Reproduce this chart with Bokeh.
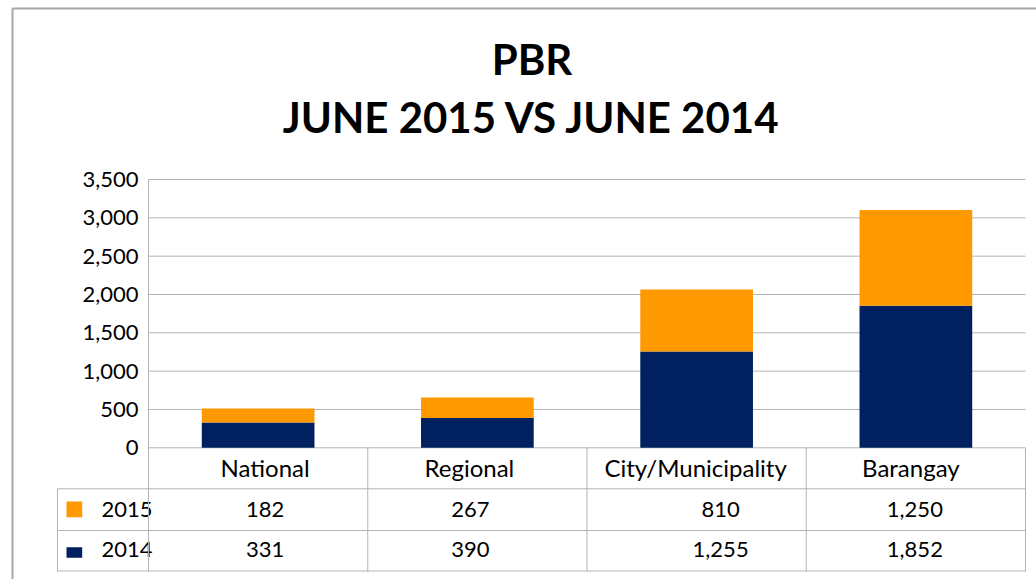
from bokeh.plotting import figure
from bokeh.models import Range1d, FixedTicker, NumeralTickFormatter, ColumnDataSource
from bokeh.core.properties import value
from bokeh.embed import file_html
from bokeh.resources import INLINE

# ---------------- data ----------------
categories = ["National", "Regional", "City/Municipality", "Barangay"]
series_names = ["2015", "2014"]
values_2015 = [182, 267, 810, 1250]
values_2014 = [331, 390, 1255, 1852]
y_ticks = [0, 500, 1000, 1500, 2000, 2500, 3000, 3500]
title_lines = ["PBR", "JUNE 2015 VS JUNE 2014"]

# ---------------- style / layout (page pixels) ----------------
NAVY = "#002060"
ORANGE = "#FF9900"
GRID = "#b3b3b3"
BORDER = "#a6a6a6"
FONT = "Lato"
FS = "22px"
FS_CAT = "24px"

W, H = 1036, 579
AXIS_X = 148          # page x of value axis / table left of categories
TABLE_R = 1025        # right edge of plot / table
LEG_L = 57            # left edge of legend column of table
TOP_Y = 179           # page y of top tick
ZERO_Y = 447.3        # page y of zero
CAT_W = (TABLE_R - AXIS_X) / len(categories)
ROW_LINES = [488.3, 530, 570.5]

ppu = (ZERO_Y - TOP_Y) / max(y_ticks)


def px(page_x):
    return (page_x - AXIS_X) / CAT_W


def py(page_y):
    return (ZERO_Y - page_y) / ppu


p = figure(width=W, height=H, output_backend="svg", toolbar_location=None,
           x_range=Range1d(px(0), px(W)), y_range=Range1d(py(H), py(0)),
           x_axis_type=None,
           min_border_left=0, min_border_right=0,
           min_border_top=0, min_border_bottom=0)
p.outline_line_color = None
p.background_fill_color = "white"
p.border_fill_color = "white"
p.xgrid.visible = False
p.ygrid.visible = False

ticker = FixedTicker(ticks=y_ticks)
yax = p.yaxis[0]
yax.ticker = ticker
yax.fixed_location = 0
yax.bounds = (py(571), max(y_ticks))
yax.formatter = NumeralTickFormatter(format="0,0")
yax.major_tick_line_color = None
yax.minor_tick_line_color = None
yax.major_tick_out = 0
yax.major_tick_in = 0
yax.axis_line_color = GRID
yax.major_label_text_font = FONT
yax.major_label_text_font_size = FS
yax.major_label_text_color = "black"
yax.major_label_standoff = 10

n = len(categories)

# gridlines (only across the plot area)
p.segment(x0=[0] * len(y_ticks), x1=[n] * len(y_ticks), y0=y_ticks, y1=y_ticks,
          line_color=GRID, line_width=1)

# ---------------- bars ----------------
xc = [i + 0.5 for i in range(n)]
src = ColumnDataSource(dict(x=xc, cat=categories,
                            v2014=values_2014, v2015=values_2015))
p.vbar_stack(["v2014", "v2015"], x="x", width=0.514, source=src,
             fill_color=[NAVY, ORANGE], line_color=[None, None])

# ---------------- data table ----------------
for yy in ROW_LINES:
    p.segment(x0=px(LEG_L), x1=n, y0=py(yy), y1=py(yy), line_color=GRID, line_width=1)
for i in range(1, n + 1):
    p.segment(x0=i, x1=i, y0=0, y1=py(571), line_color=GRID, line_width=1)
p.segment(x0=px(LEG_L), x1=px(LEG_L), y0=py(ROW_LINES[0]), y1=py(571),
          line_color=GRID, line_width=1)

hdr_off = [7, -8, -1, -5]
val_off = [7, -7, 24, -1]
p.text(x=xc, y=[py(466.7)] * n, text=categories, x_offset=hdr_off,
       text_align="center", text_baseline="middle",
       text_font=value(FONT), text_font_size=FS_CAT, text_color="black")
p.text(x=xc, y=[py(509.2)] * n, text=[f"{v:,}" for v in values_2015],
       x_offset=val_off, text_align="center", text_baseline="middle",
       text_font=value(FONT), text_font_size=FS, text_color="black")
p.text(x=xc, y=[py(549.3)] * n, text=[f"{v:,}" for v in values_2014],
       x_offset=val_off, text_align="center", text_baseline="middle",
       text_font=value(FONT), text_font_size=FS, text_color="black")

# legend keys in the table's first column
p.quad(left=[px(66)] * 2, right=[px(81.7)] * 2,
       top=[py(501), py(546.7)], bottom=[py(516.7), py(557.3)],
       fill_color=[ORANGE, NAVY], line_color=None)
p.text(x=[px(101)] * 2, y=[py(509.2), py(549.3)], text=series_names,
       text_align="left", text_baseline="middle",
       text_font=value(FONT), text_font_size=FS, text_color="black")

# ---------------- title ----------------
p.text(x=[px(531.5)] * 2, y=[py(58.8), py(116.3)], text=title_lines,
       text_align="center", text_baseline="middle",
       text_font=value(FONT), text_font_style="bold", text_font_size="42px",
       text_color="black")

# outer chart border
p.segment(x0=[px(12), px(12)], x1=[px(W + 10), px(12)],
          y0=[py(8), py(8)], y1=[py(8), py(H + 10)],
          line_color=BORDER, line_width=2)

open("out.html", "w").write(file_html(p, INLINE))
